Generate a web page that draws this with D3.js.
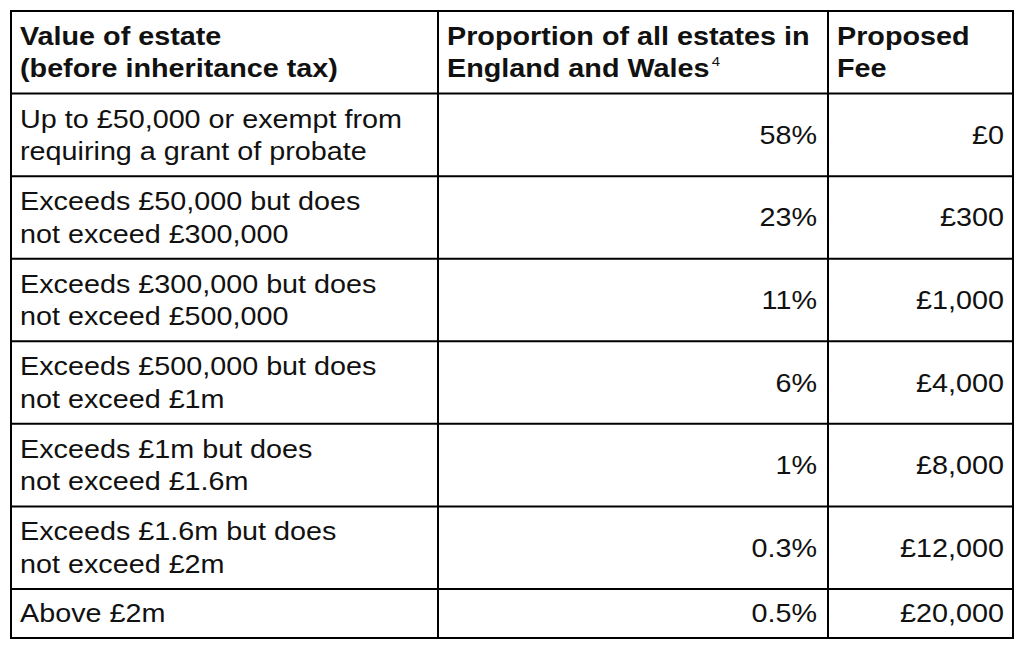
<!DOCTYPE html>
<html>
<head>
<meta charset="utf-8">
<script src="https://cdn.jsdelivr.net/npm/d3@7"></script>
<style>
  html, body { margin: 0; padding: 0; background: #fff; }
  svg { display: block; }
</style>
</head>
<body>
<svg id="chart" width="1024" height="651"></svg>
<script>
// ---- Data ----
const headers = [
  ["Value of estate", "(before inheritance tax)"],
  ["Proportion of all estates in", "England and Wales"],
  ["Proposed", "Fee"]
];
const headerNote = "4";
const estateBands = [
  ["Up to £50,000 or exempt from", "requiring a grant of probate"],
  ["Exceeds £50,000 but does", "not exceed £300,000"],
  ["Exceeds £300,000 but does", "not exceed £500,000"],
  ["Exceeds £500,000 but does", "not exceed £1m"],
  ["Exceeds £1m but does", "not exceed £1.6m"],
  ["Exceeds £1.6m but does", "not exceed £2m"],
  ["Above £2m"]
];
const proportions = ["58%", "23%", "11%", "6%", "1%", "0.3%", "0.5%"];
const fees = ["£0", "£300", "£1,000", "£4,000", "£8,000", "£12,000", "£20,000"];

// ---- Layout ----
const svg = d3.select("#chart");
const colX = [11, 438, 828, 1013];
const rowY = d3.scaleLinear().domain([0, 7]).range([11, 589]);
const bottomY = 638;
const rowTop = i => rowY(i);
const rowBottom = i => (i < 7 ? rowY(i + 1) : bottomY);

const fontFamily = "'Liberation Sans', Arial, sans-serif";
const fontSize = 25;
const stretch = 1.15;
const lineH = 32.5;
const textColor = "#111";
const capHalf = fontSize * 0.358;

function lineBaselines(n, top, bottom) {
  const mid = (top + bottom) / 2;
  const first = mid - (n - 1) * lineH / 2 + capHalf;
  return d3.range(n).map(k => first + k * lineH);
}

function addText(ax, anchor, bold) {
  return svg.append("text")
    .attr("transform", `translate(${ax},0) scale(${stretch},1)`)
    .attr("font-family", fontFamily)
    .attr("font-size", fontSize)
    .attr("font-weight", bold ? "bold" : "normal")
    .attr("text-anchor", anchor)
    .attr("fill", textColor);
}

// Header
headers.forEach((lines, c) => {
  const bl = lineBaselines(lines.length, rowTop(0), rowBottom(0));
  const t = addText(colX[c] + 9, "start", true);
  lines.forEach((ln, k) => {
    t.append("tspan").attr("x", 0).attr("y", bl[k]).text(ln);
  });
  if (c === 1) {
    t.append("tspan")
      .attr("font-size", 13)
      .attr("font-weight", "normal")
      .attr("dx", 2)
      .attr("dy", -11)
      .text(headerNote);
  }
});

// Body rows
estateBands.forEach((lines, i) => {
  const r = i + 1;
  const top = rowTop(r), bottom = rowBottom(r);
  const bl = lineBaselines(lines.length, top, bottom);
  const t = addText(colX[0] + 9, "start", false);
  lines.forEach((ln, k) => {
    t.append("tspan").attr("x", 0).attr("y", bl[k]).text(ln);
  });
  const single = lineBaselines(1, top, bottom)[0];
  addText(colX[2] - 11, "end", false).attr("x", 0).attr("y", single).text(proportions[i]);
  addText(colX[3] - 9, "end", false).attr("x", 0).attr("y", single).text(fees[i]);
});

// Grid lines
const g = svg.append("g").attr("stroke", "#000").attr("stroke-width", 2);
d3.range(1, 8).forEach(i => {
  g.append("line").attr("x1", colX[0]).attr("x2", colX[3])
    .attr("y1", rowTop(i)).attr("y2", rowTop(i));
});
colX.slice(1, 3).forEach(x => {
  g.append("line").attr("x1", x).attr("x2", x)
    .attr("y1", rowTop(0)).attr("y2", bottomY);
});
g.append("rect")
  .attr("x", colX[0]).attr("y", rowTop(0))
  .attr("width", colX[3] - colX[0]).attr("height", bottomY - rowTop(0))
  .attr("fill", "none");
</script>
</body>
</html>
